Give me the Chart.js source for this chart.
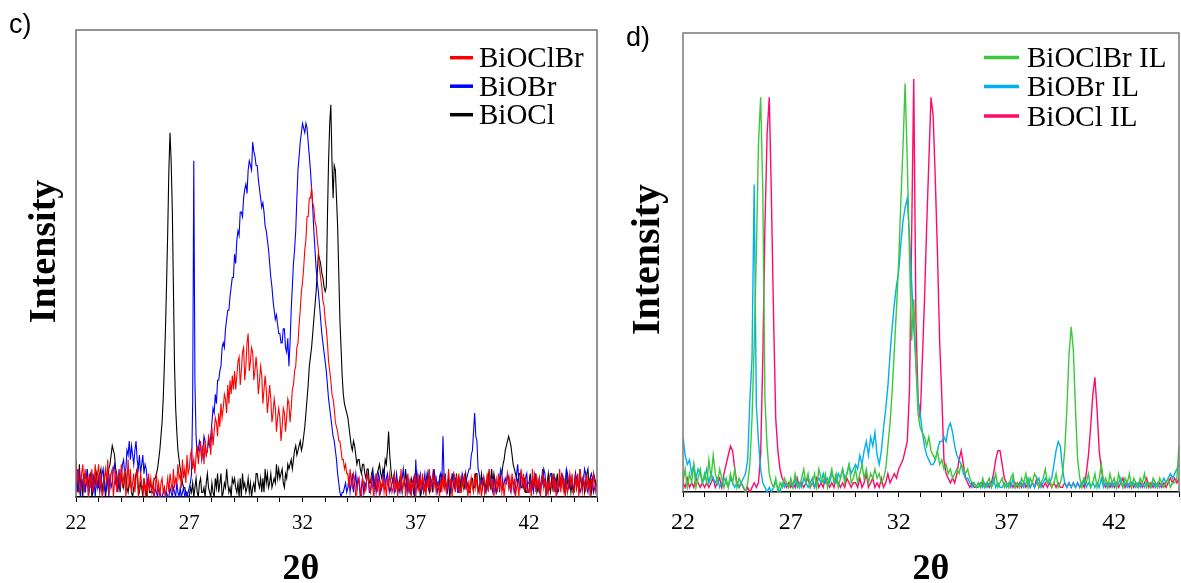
<!DOCTYPE html>
<html><head><meta charset="utf-8">
<script src="https://cdn.jsdelivr.net/npm/chart.js@4.4.1/dist/chart.umd.min.js"></script>
<style>
html,body{margin:0;padding:0;background:#fff;width:1181px;height:583px;overflow:hidden}
#wc{position:absolute;left:0;top:0;width:600px;height:583px}
#wd{position:absolute;left:600px;top:0;width:581px;height:583px}
</style></head><body>
<div id="wc"><canvas id="chartC" width="600" height="583"></canvas></div>
<div id="wd"><canvas id="chartD" width="581" height="583"></canvas></div>
<script>
// 2-theta sampling grids (category positions)
const thetaMin = 22, thetaMax = 45;
function grid(step) {
  const g = [];
  const n = Math.round((thetaMax - thetaMin) / step);
  for (let i = 0; i <= n; i++) g.push(Math.round((thetaMin + i * step) * 100) / 100);
  return g;
}
const thetaC = grid(0.05);   // panel c: 22.00 .. 45.00
const thetaD = grid(0.1);    // panel d: 22.0 .. 45.0

const tickValues = [22,23,24,25,26,27,28,29,30,31,32,33,34,35,36,37,38,39,40,41,42,43,44,45];
const tickLabels = ['22','27','32','37','42'];

// Panel c) relative intensities (0-100), one row per degree, 0.05 steps
const cBiOClBr = [
 8,3,6,1,2,5,7,1,6,3,4,0,5,2,6,1,3,7,2,5,
 7,2,5,0,1,4,6,3,8,1,2,5,6,0,3,6,1,4,5,2,
 7,2,4,6,0,3,8,2,6,1,3,5,1,4,6,0,2,5,3,1,
 4,1,3,0,5,2,4,1,3,0,2,5,1,3,0,3,4,1,2,0,
 2,4,1,5,3,1,6,2,4,3,7,4,5,2,8,4,6,3,9,5,
 6,9,10,6,8,5,9,11,7,10,12,8,11,7,12,9,10,13,12,9,
 15,11,14,17,16,13,18,15,20,17,19,22,21,18,24,20,25,22,26,23,
 27,23,26,29,30,24,27,31,32,25,28,33,35,27,29,32,31,25,27,30,
 27,22,25,28,26,20,23,26,23,18,21,24,21,16,18,21,19,14,17,19,
 17,12,15,19,18,14,17,21,20,16,19,23,24,27,28,32,33,37,40,44,
 46,49,53,55,60,60,64,64,66,63,62,59,58,55,53,49,47,45,42,41,
 38,36,33,29,27,25,22,21,19,16,15,14,12,12,10,8,8,6,7,5,
 5,2,6,3,2,5,4,0,1,3,4,1,0,4,3,1,2,5,4,2,
 1,4,2,0,3,5,1,4,0,3,2,4,1,3,0,4,2,5,3,1,
 2,5,1,4,0,3,2,6,1,3,4,0,2,5,1,4,0,3,2,5,
 0,3,5,1,4,2,5,1,3,0,4,2,6,1,3,5,2,4,1,3,
 3,0,4,1,5,2,4,1,3,6,2,4,0,3,5,1,4,2,5,1,
 1,4,2,5,2,3,0,3,1,4,2,1,5,2,4,2,1,3,0,3,
 4,1,2,5,1,6,3,2,4,0,3,4,1,5,2,4,1,3,0,3,
 3,5,2,4,1,5,2,4,0,2,3,0,4,6,2,5,1,4,2,1,
 1,3,0,6,2,5,1,4,2,4,0,3,5,2,4,0,3,1,4,2,
 2,5,1,4,0,3,2,6,1,5,2,4,0,3,1,3,5,2,5,1,
 1,4,2,5,0,6,3,1,4,3,1,5,2,4,0,4,2,5,3,1,
 2];
const cBiOBr = [
 5,1,3,6,0,4,2,5,1,3,6,0,2,4,1,5,3,0,4,2,
 4,1,3,5,6,2,1,4,3,0,5,2,3,6,7,3,4,1,6,2,
 4,7,8,5,6,10,9,12,8,11,9,7,10,12,8,6,9,5,7,9,
 5,7,6,3,4,2,3,1,1,0,2,1,0,2,1,0,0,1,2,0,
 1,0,0,2,1,0,2,1,0,3,1,0,2,0,1,2,0,1,0,1,
 2,3,5,20,72,25,13,9,10,12,11,8,10,13,12,9,10,12,11,13,
 16,19,18,22,20,25,25,27,28,32,33,32,36,38,40,40,43,45,47,47,
 52,50,55,57,56,61,61,60,64,66,67,65,70,72,71,70,76,74,73,71,
 71,68,66,64,62,63,61,58,57,55,53,50,47,45,42,40,38,39,37,35,
 35,33,33,36,36,32,31,34,28,33,40,45,50,53,57,64,70,73,76,78,
 80,79,78,80,79,76,73,70,66,62,57,53,49,46,44,41,38,35,33,31,
 29,27,24,21,19,17,15,13,12,10,8,5,3,1,0,1,1,2,3,1,
 2,4,1,3,5,1,3,5,2,4,3,0,2,4,1,3,2,5,4,1,
 1,3,5,2,4,1,3,5,4,1,2,3,6,2,4,5,3,1,2,3,
 4,1,2,5,3,2,1,3,4,6,3,2,4,1,3,1,2,3,4,0,
 8,3,2,4,5,1,2,3,5,2,3,5,2,4,3,2,6,3,4,1,
 2,4,5,3,13,4,4,2,1,3,3,1,5,3,2,4,4,1,1,3,
 3,5,4,2,3,4,5,6,6,9,10,14,18,13,12,6,5,2,3,4,
 4,2,1,3,2,5,4,2,1,4,3,1,2,3,4,6,5,2,3,4,
 3,5,4,2,1,4,3,1,2,5,7,3,2,5,4,2,3,4,5,1,
 1,4,3,2,1,5,4,3,2,1,2,4,3,6,5,2,1,3,4,5,
 5,2,3,4,3,1,2,3,4,5,4,2,1,6,5,3,2,4,3,2,
 2,5,4,3,2,1,2,4,3,6,5,2,1,3,4,5,4,1,2,3,
 3];
const cBiOCl = [
 3,6,1,7,2,4,0,5,1,3,6,2,4,5,0,1,4,3,5,2,
 2,5,6,1,3,4,0,2,4,6,7,9,11,10,9,6,5,2,3,1,
 6,3,2,4,5,2,1,3,4,1,0,2,3,5,6,2,1,3,2,0,
 4,2,0,3,3,1,1,2,2,4,4,5,6,8,10,13,16,21,28,36,
 46,57,70,78,72,62,45,28,19,14,10,8,6,5,3,2,2,1,1,0,
 0,2,1,3,0,2,4,1,0,3,4,1,1,2,0,3,5,2,1,0,
 3,1,0,4,2,5,1,3,5,0,1,3,2,6,3,1,2,0,4,3,
 4,2,1,3,0,4,0,5,2,3,1,2,4,1,3,0,2,3,1,5,
 5,3,2,4,1,4,1,6,3,5,2,3,5,2,3,4,3,7,4,6,
 4,5,6,3,2,5,4,7,6,7,8,6,8,10,11,9,10,11,12,10,
 11,13,15,18,21,24,28,30,32,35,38,41,44,48,52,51,50,48,47,45,
 44,45,60,72,80,84,72,64,71,70,64,58,48,38,32,26,22,20,19,18,
 17,15,13,11,10,12,11,9,7,8,8,6,5,7,7,5,4,6,6,3,
 3,5,6,3,2,4,5,6,7,5,4,6,5,8,7,10,14,9,6,4,
 3,5,2,4,1,2,4,3,1,3,3,6,2,4,2,1,4,3,1,3,
 3,5,2,4,0,2,4,1,2,3,5,2,1,4,3,1,6,4,2,3,
 2,4,1,5,3,2,5,1,3,4,0,2,4,5,2,3,5,1,3,4,
 1,4,2,3,5,2,3,1,1,4,4,2,2,5,5,1,2,3,5,2,
 4,1,3,2,5,3,2,6,3,5,3,1,2,4,1,5,5,7,8,10,
 11,12,13,12,11,9,7,6,5,4,3,5,5,2,2,4,4,1,1,3,
 3,5,1,4,2,3,5,1,2,4,1,3,6,2,4,0,3,5,2,1,
 4,2,5,1,3,5,1,4,2,3,4,1,2,6,3,2,4,1,3,1,
 3,5,2,4,1,6,3,2,4,1,3,5,6,2,4,1,3,5,4,3,
 2];

// Panel d) relative intensities (0-100), one row per degree, 0.1 steps
const dBiOClBrIL = [
 2,5,1,4,2,6,1,3,5,2,
 4,2,7,3,8,4,2,5,3,1,
 3,1,4,2,5,1,3,2,1,0,
 2,6,16,32,52,76,86,66,20,10,
 4,2,1,3,0,2,1,3,2,1,
 3,1,4,2,1,3,5,2,4,1,
 2,4,1,5,3,2,4,1,3,5,
 2,4,1,3,5,2,4,6,2,3,
 5,2,4,6,3,5,2,4,3,5,
 3,4,2,3,5,10,15,22,31,40,
 50,63,75,89,72,52,33,42,28,17,
 14,13,12,10,12,9,8,7,9,6,
 7,5,6,4,5,3,4,5,4,6,
 5,4,5,3,2,2,1,2,1,3,
 1,2,3,1,2,4,1,2,3,1,
 2,1,3,4,1,2,1,3,2,4,
 1,3,2,4,3,1,2,3,5,2,
 3,1,2,4,1,2,4,9,18,30,
 36,31,18,7,3,1,3,2,4,1,
 2,4,1,3,6,2,3,1,4,2,
 3,1,4,2,1,3,2,4,1,3,
 2,1,3,2,4,1,2,1,3,2,
 1,3,2,1,2,3,1,2,2,3,
 10];
const dBiOBrIL = [
 12,8,6,7,4,6,3,5,4,2,
 3,5,2,4,3,2,3,1,2,3,
 2,1,3,2,1,2,1,2,3,4,
 7,20,29,67,19,11,5,2,1,0,
 1,0,1,2,1,0,2,1,2,1,
 2,1,3,1,2,1,3,2,1,2,
 3,1,2,3,2,4,2,3,2,4,
 3,2,4,3,5,3,4,6,4,5,
 6,5,8,6,9,11,8,12,10,13,
 8,6,9,14,18,23,30,36,41,45,
 48,54,59,62,64,56,46,36,28,20,
 17,13,10,8,7,6,6,7,9,11,
 11,12,11,14,15,13,10,8,7,6,
 4,3,3,2,1,2,1,1,2,1,
 2,1,2,1,3,1,2,1,1,2,
 1,2,1,3,1,2,1,2,1,2,
 3,1,2,1,2,3,1,2,3,2,
 2,3,6,9,11,10,5,2,1,2,
 1,2,1,2,1,2,3,1,2,1,
 2,1,2,1,3,1,2,1,2,1,
 2,1,2,3,1,2,1,2,1,2,
 1,2,1,2,1,2,2,1,2,1,
 2,1,2,3,2,3,4,3,4,5,
 6];
const dBiOClIL = [
 2,1,3,1,2,1,3,2,1,2,
 1,2,1,2,3,1,2,3,1,4,
 6,8,10,9,5,2,1,2,1,0,
 1,0,1,2,1,2,8,29,58,78,
 86,64,38,16,9,5,3,2,1,2,
 1,2,1,3,1,2,1,2,3,1,
 2,1,3,1,2,1,3,2,1,2,
 1,3,2,1,2,1,3,2,1,2,
 2,1,3,1,2,4,1,2,3,1,
 2,1,3,1,2,4,2,3,4,3,
 5,6,7,9,11,22,55,90,38,20,
 16,29,42,58,72,86,82,68,52,33,
 21,7,4,3,2,3,2,4,7,9,
 6,3,2,1,2,1,1,2,1,2,
 1,2,1,2,4,7,9,9,6,3,
 2,1,2,1,2,1,2,1,2,1,
 2,1,2,1,3,1,2,1,2,1,
 2,1,2,1,2,1,1,2,1,2,
 1,2,1,2,1,2,1,4,8,14,
 21,25,18,9,5,2,1,2,1,2,
 1,2,1,2,3,1,2,1,2,1,
 2,1,2,1,2,3,1,2,1,2,
 1,2,1,2,1,2,3,2,3,2,
 3];

const toXY = (arr, g) => arr.map((v, i) => ({x: g[i], y: v}));

const decor = {
  id: 'decor',
  afterDatasetsDraw(chart, args, o) {
    const ctx = chart.ctx, a = chart.chartArea;
    ctx.save();
    ctx.strokeStyle = o.frameColor; ctx.lineWidth = 1.5;
    ctx.beginPath();
    ctx.moveTo(a.left, a.bottom); ctx.lineTo(a.left, a.top);
    ctx.lineTo(a.right, a.top); ctx.lineTo(a.right, a.bottom);
    ctx.stroke();
    chart.data.datasets.forEach((ds, i) => {
      const y = o.legendY[i];
      ctx.strokeStyle = ds.borderColor; ctx.lineWidth = 3.5; ctx.lineCap = 'butt';
      ctx.beginPath(); ctx.moveTo(o.legendX0, y); ctx.lineTo(o.legendX1, y); ctx.stroke();
      ctx.fillStyle = '#000'; ctx.font = o.legendFont;
      ctx.textBaseline = 'alphabetic'; ctx.textAlign = 'left';
      ctx.fillText(ds.label, o.legendTextX, y + 9.5);
    });
    ctx.font = '27px "Liberation Sans", Arial, sans-serif';
    ctx.fillStyle = '#000'; ctx.textAlign = 'left'; ctx.textBaseline = 'alphabetic';
    ctx.fillText(o.panel, o.panelX, o.panelY);
    ctx.font = 'bold 36px "Liberation Serif", "Times New Roman", serif';
    ctx.textAlign = 'center';
    ctx.fillText(o.xTitle, o.xTitleX, o.xTitleY);
    ctx.translate(o.yTitleX, o.yTitleY);
    ctx.rotate(-Math.PI / 2);
    ctx.font = 'bold ' + o.yTitleSize + 'px "Liberation Serif", "Times New Roman", serif';
    ctx.fillText(o.yTitle, 0, 0);
    ctx.restore();
  }
};

function makeChart(id, g, datasets, pad, tickFont, tickPad, lineW, deco) {
  return new Chart(document.getElementById(id), {
    type: 'line',
    data: {datasets: datasets.map(d => ({
      label: d.label, data: toXY(d.values, g), borderColor: d.color, backgroundColor: d.color,
      borderWidth: lineW, pointRadius: 0, tension: 0, fill: false
    }))},
    options: {
      responsive: false, animation: false, devicePixelRatio: 1,
      layout: {padding: pad},
      plugins: {legend: {display: false}, tooltip: {enabled: false}, decor: deco},
      scales: {
        x: {
          type: 'linear', min: thetaMin, max: thetaMax,
          afterBuildTicks: s => { s.ticks = tickValues.map(v => ({value: v})); },
          afterFit: s => { s.height = 50; s.paddingLeft = 0; s.paddingRight = 0; },
          ticks: {autoSkip: false, maxRotation: 0, padding: tickPad, color: '#000',
            font: {family: '"Liberation Serif", "Times New Roman", serif', size: tickFont},
            callback: v => tickLabels.includes(String(v)) ? String(v) : ''},
          grid: {display: true, drawOnChartArea: false, drawTicks: true, tickLength: 5, color: '#000', lineWidth: 1},
          border: {display: true, color: '#000', width: 1.5}
        },
        y: {display: false, min: 0, max: 100}
      }
    },
    plugins: [decor]
  });
}

makeChart('chartC', thetaC, [
  {label: 'BiOClBr', values: cBiOClBr, color: '#ff0000'},
  {label: 'BiOBr', values: cBiOBr, color: '#0000ff'},
  {label: 'BiOCl', values: cBiOCl, color: '#000000'}
], {left: 76, right: 3, top: 30, bottom: 36}, 21, 9, 1.1, {
  frameColor: '#707070', legendY: [57.7, 86.2, 114.7], legendX0: 450, legendX1: 473, legendTextX: 479,
  legendFont: '29px "Liberation Serif", "Times New Roman", serif',
  panel: 'c)', panelX: 9, panelY: 33,
  xTitle: '2θ', xTitleX: 301, xTitleY: 579,
  yTitle: 'Intensity', yTitleX: 55, yTitleY: 251.5, yTitleSize: 38
});

makeChart('chartD', thetaD, [
  {label: 'BiOClBr IL', values: dBiOClBrIL, color: '#3cc83c'},
  {label: 'BiOBr IL', values: dBiOBrIL, color: '#00b0f0'},
  {label: 'BiOCl IL', values: dBiOClIL, color: '#ff0a6a'}
], {left: 83, right: 2, top: 33, bottom: 41}, 24, 11, 1.4, {
  frameColor: '#7a7a7a', legendY: [57.6, 86.6, 116], legendX0: 384, legendX1: 419, legendTextX: 427,
  legendFont: '29px "Liberation Serif", "Times New Roman", serif',
  panel: 'd)', panelX: 26, panelY: 46,
  xTitle: '2θ', xTitleX: 331, xTitleY: 579,
  yTitle: 'Intensity', yTitleX: 58.5, yTitleY: 259.5, yTitleSize: 40
});
</script>
</body></html>
